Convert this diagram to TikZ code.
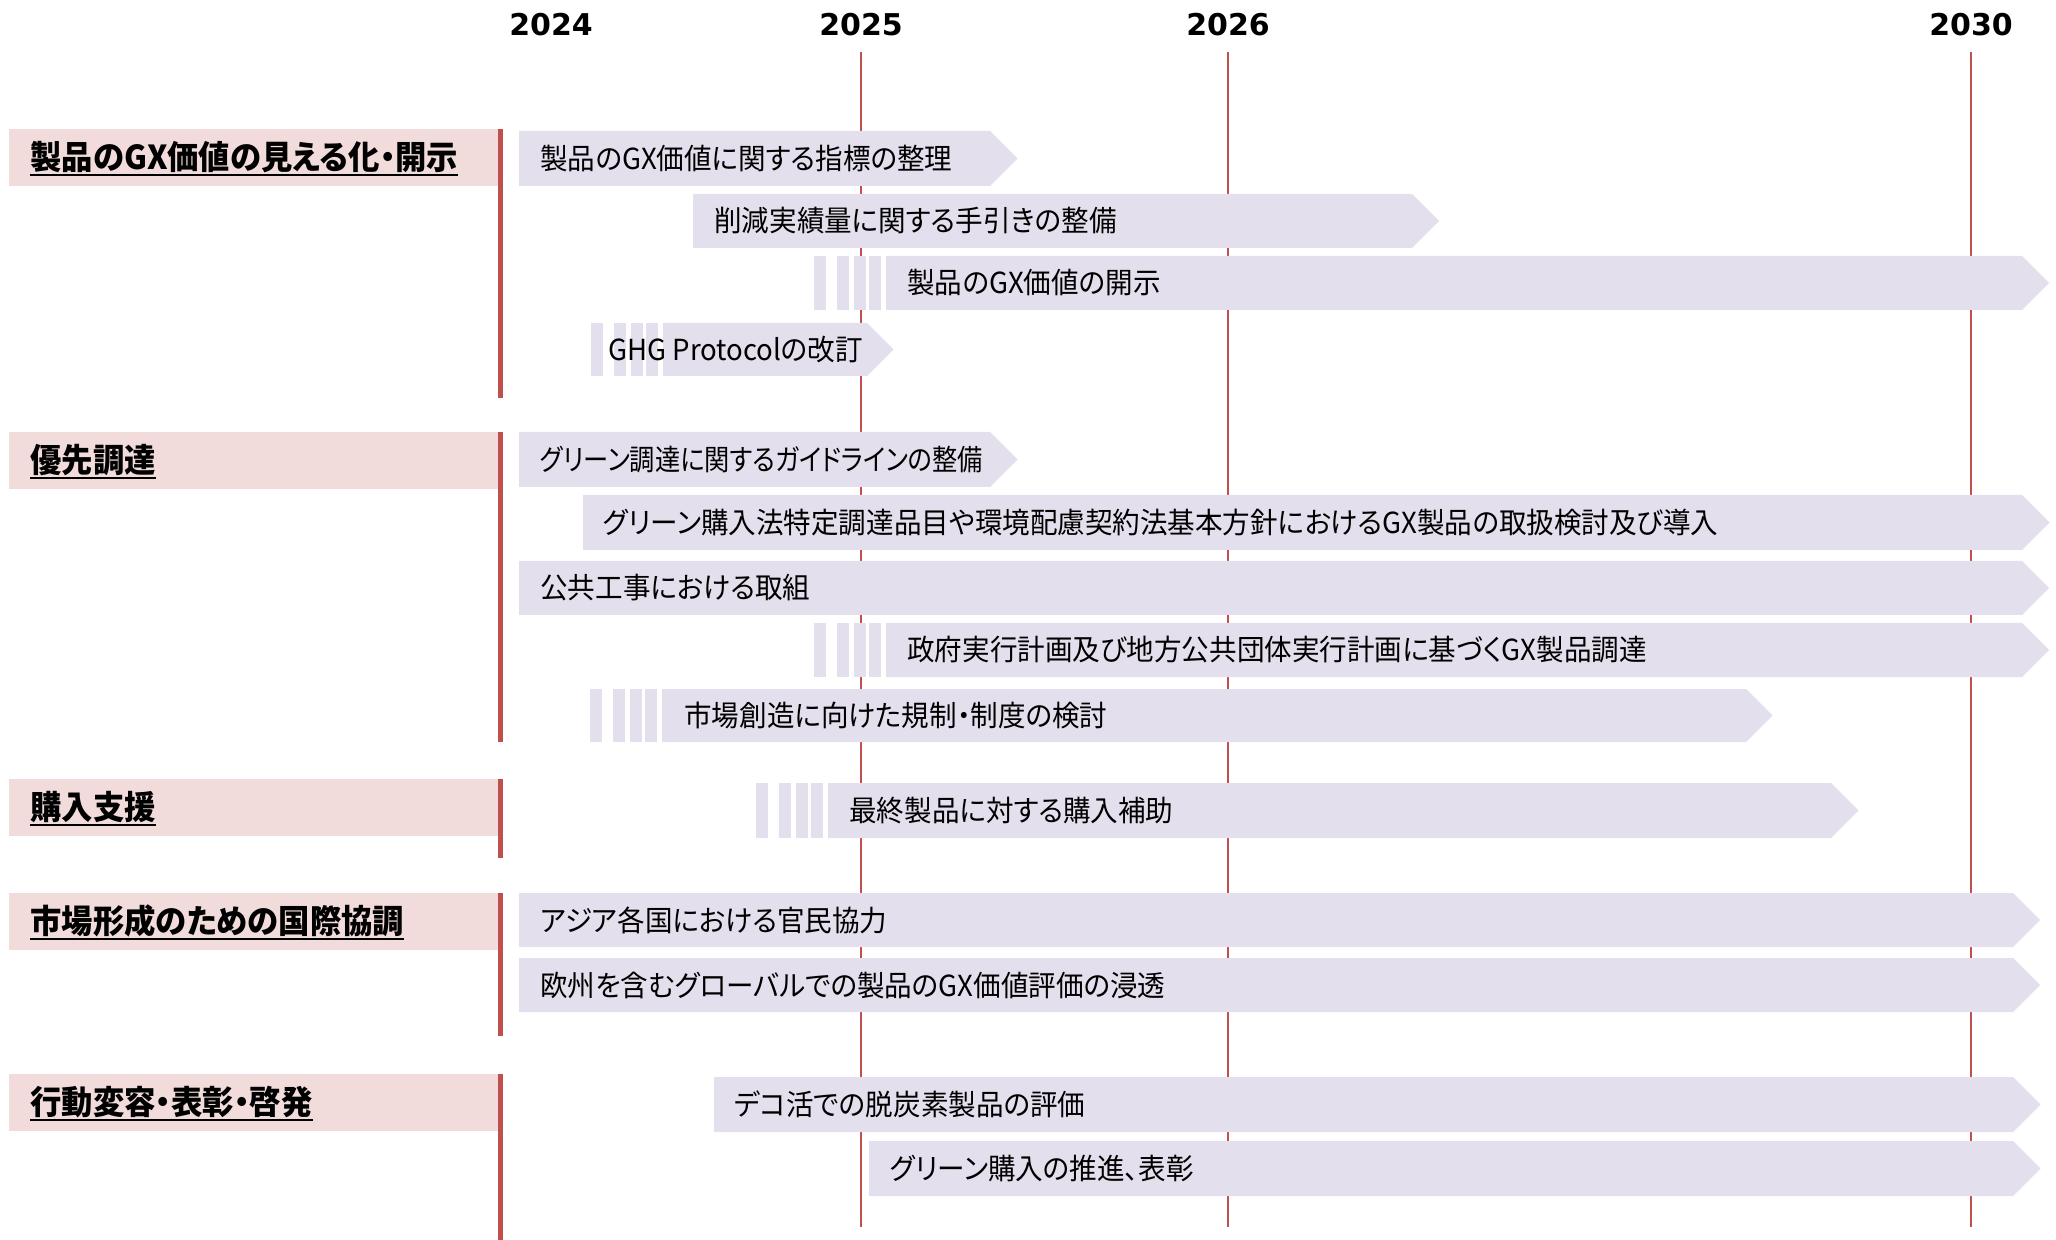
\documentclass[tikz,border=0pt]{standalone}
\usepackage{fontspec}
\setmainfont{Noto Sans CJK JP}[RawFeature=+palt, FakeStretch=0.95]
\newfontfamily\narrowfont{Noto Sans CJK JP}[RawFeature=+palt, FakeStretch=0.87]
\newfontfamily\yearfont{DejaVu Sans}
\definecolor{barcol}{HTML}{E4DFEC}
\definecolor{headcol}{HTML}{F2DCDB}
\definecolor{gridred}{HTML}{C0504D}
\newcommand\ulx[1]{\setbox0\hbox{#1}\rlap{\rule[-3.2pt]{\wd0}{1pt}}\box0}
% #1 name, #2 main x, #3 body end x, #4 top y, #5 bottom y, #6 text x, #7 text
\newcommand\gxbar[7]{%
  \fill[barfill] (#2,#4) -- (#3,#4) -- ({#3+(#5-#4)/2},{(#4+#5)/2}) -- (#3,#5) -- (#2,#5) -- cycle;
  \node[bartext] (#1) at (#6,{(#4+#5)/2+11}) {#7};
}
% #1 main x, #2 top y, #3 bottom y
\newcommand\gxstripes[3]{%
  \foreach \a/\b in {72/60,49/37,32/20,17/5}
    \fill[barfill] ({#1-\a},#2) rectangle ({#1-\b},#3);
}
% #1 name, #2 top y, #3 bottom y, #4 bar end y, #5 text
\newcommand\gxhead[5]{%
  \fill[headbox] (9,#2) rectangle (498,#3);
  \draw[sectbar] (500,#2) -- (500,#4);
  \node[headtext] (#1) at (30,{(#2+#3)/2+12}) {\ulx{#5}};
}
\begin{document}
\begin{tikzpicture}[x=0.5pt,y=-0.5pt,
  barfill/.style={fill=barcol},
  headbox/.style={fill=headcol},
  bartext/.style={anchor=base west, inner sep=0pt, text=black, font=\fontsize{14.5pt}{17pt}\selectfont},
  headtext/.style={anchor=base west, inner sep=0pt, text=black, font=\fontsize{16.5pt}{19pt}\selectfont\bfseries},
  yeartext/.style={anchor=base, inner sep=0pt, text=black, font=\yearfont\bfseries\fontsize{15pt}{18pt}\selectfont},
  gridline/.style={draw=gridred, line width=1.1pt},
  sectbar/.style={draw=gridred, line width=2.5pt}]
\useasboundingbox (0,0) rectangle (2056,1240);

% years
\node[yeartext] (y2024) at (551,36) {2024};
\node[yeartext] (y2025) at (861,36) {2025};
\node[yeartext] (y2026) at (1228,36) {2026};
\node[yeartext] (y2030) at (1971,36) {2030};

% grid lines
\coordinate (g25t) at (861,52);  \coordinate (g25b) at (861,1227);
\coordinate (g26t) at (1228,52); \coordinate (g26b) at (1228,1227);
\coordinate (g30t) at (1971,52); \coordinate (g30b) at (1971,1227);
\draw[gridline] (g25t) -- (g25b);
\draw[gridline] (g26t) -- (g26b);
\draw[gridline] (g30t) -- (g30b);

% section headers
\gxhead{h1}{129}{186}{398}{製品のGX価値の見える化・開示}
\gxhead{h2}{432}{489}{742}{優先調達}
\gxhead{h3}{779}{836}{858}{購入支援}
\gxhead{h4}{893}{950}{1036}{市場形成のための国際協調}
\gxhead{h5}{1074}{1131}{1240}{行動変容・表彰・啓発}

% section 1
\gxbar{b1}{519}{990}{131}{186}{540}{製品のGX価値に関する指標の整理}
\gxbar{b2}{693}{1412}{194}{248}{714}{削減実績量に関する手引きの整備}
\gxstripes{886}{256}{310}
\gxbar{b3}{886}{2022}{256}{310}{907}{製品のGX価値の開示}
\gxstripes{663}{323}{376}
\gxbar{b4}{663}{867}{323}{376}{608}{GHG Protocolの改訂}

% section 2
\gxbar{b5}{519}{990}{432}{487}{540}{\narrowfont グリーン調達に関するガイドラインの整備}
\gxbar{b6}{583}{2022}{495}{550}{603}{グリーン購入法特定調達品目や環境配慮契約法基本方針におけるGX製品の取扱検討及び導入}
\gxbar{b7}{519}{2022}{561}{615}{540}{公共工事における取組}
\gxstripes{886}{623}{677}
\gxbar{b8}{886}{2022}{623}{677}{907}{政府実行計画及び地方公共団体実行計画に基づくGX製品調達}
\gxstripes{662}{689}{742}
\gxbar{b9}{662}{1746}{689}{742}{684}{市場創造に向けた規制・制度の検討}

% section 3
\gxstripes{828}{783}{838}
\gxbar{b10}{828}{1831}{783}{838}{849}{最終製品に対する購入補助}

% section 4
\gxbar{b11}{519}{2013}{893}{947}{540}{アジア各国における官民協力}
\gxbar{b12}{519}{2013}{958}{1012}{540}{欧州を含むグローバルでの製品のGX価値評価の浸透}

% section 5
\gxbar{b13}{714}{2013}{1077}{1132}{734}{デコ活での脱炭素製品の評価}
\gxbar{b14}{869}{2013}{1141}{1196}{890}{グリーン購入の推進、表彰}
\end{tikzpicture}
\end{document}
